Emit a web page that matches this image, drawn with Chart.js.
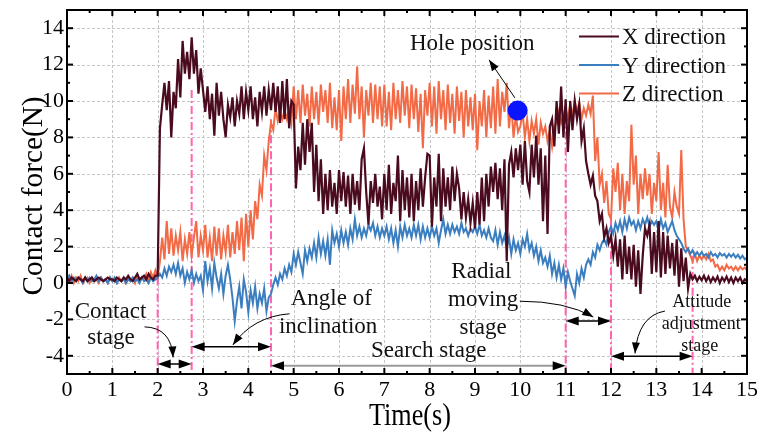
<!DOCTYPE html>
<html lang="en">
<head>
<meta charset="UTF-8">
<title>Contact force</title>
<script src="https://cdn.jsdelivr.net/npm/chart.js@4"></script>
<style>
    html, body { margin: 0; padding: 0; background: #fff; }
    canvas { display: block; }
</style>
</head>
<body>
<canvas id="grafico" width="760" height="434"></canvas>
<script>
// muestreo cada 0.05 s, una fila por segundo
const sampleStep = 0.05;

const xDirection = [
    0.3,0.1,0.3,0.2,0.1,0.3,0.2,0.1,0.3,0.1,0.2,0.3,0.1,0.2,0.3,0.2,0.1,0.2,0.3,0.2,
    0.2,0.1,0.3,0.2,0.1,0.3,0.2,0.4,0.2,0.1,0.3,0.5,0.2,0.3,0.4,0.2,0.5,0.3,0.2,0.4,
    0.4,8.5,9.8,11.0,9.5,11.1,8.0,10.5,9.6,12.3,10.2,13.3,11.5,12.7,11.2,13.5,11.5,12.8,10.4,11.8,
    10.6,9.4,10.8,9.0,10.4,8.1,11.0,9.2,10.5,9.0,8.0,9.8,9.1,10.2,8.6,10.0,9.3,10.8,9.0,10.5,
    9.5,10.8,9.0,10.2,8.6,10.5,9.4,10.8,9.2,10.6,9.5,11.0,9.4,10.8,8.8,11.1,9.0,11.2,8.5,10.0,
    9.8,5.2,7.5,6.2,8.8,6.5,9.0,7.2,8.8,5.0,7.6,4.5,6.8,3.8,6.0,4.0,6.2,4.2,5.5,3.8,
    6.2,4.5,6.1,4.2,5.9,3.8,6.0,4.3,5.6,4.0,6.8,7.4,5.0,3.2,5.6,4.4,6.0,4.2,5.3,3.5,
    6.0,4.0,6.5,3.8,5.5,4.5,7.0,3.4,6.2,4.0,5.8,3.6,6.0,3.4,5.6,4.0,6.3,4.2,5.8,7.1,
    7.0,3.1,5.8,4.2,7.1,3.4,6.3,4.2,5.8,4.0,6.4,4.5,6.0,5.2,3.5,5.0,3.6,4.6,3.3,4.4,
    3.0,5.0,3.2,5.8,3.4,6.0,4.2,6.4,5.0,6.6,4.6,6.3,4.0,6.8,1.2,6.5,7.2,5.8,7.4,6.2,
    7.6,5.4,7.8,5.6,5.0,7.6,5.8,8.1,5.4,7.4,3.4,7.0,2.7,8.6,9.0,7.5,10.0,8.2,10.8,8.0,
    10.1,7.2,10.0,8.4,10.0,9.0,9.8,7.8,8.5,6.7,6.0,5.4,5.9,4.8,4.5,3.4,3.8,2.5,3.0,2.2,
    2.6,1.5,2.4,0.9,2.4,0.2,2.6,0.5,2.0,0.2,2.1,-0.2,1.8,-0.6,1.5,3.0,2.6,3.2,0.5,2.8,
    0.6,3.4,0.3,2.8,0.5,2.6,0.8,2.2,0.4,2.4,-0.2,1.9,0.1,1.4,-0.3,0.5,0.2,0.4,0.1,0.35,
    0.15,0.4,0.1,0.35,0.05,0.3,0.1,0.35,0.0,0.3,0.1,0.35,0.05,0.3,0.0,0.3,0.1,0.3,0.0,0.2,0.1
];

const yDirection = [
    0.2,0.4,0.1,0.3,0.1,0.3,0.2,0.0,0.3,0.1,0.3,0.1,0.2,0.4,0.1,0.3,0.1,0.2,0.0,0.3,
    0.1,0.3,0.0,0.2,0.1,0.3,0.0,0.2,0.1,0.3,0.1,0.2,0.0,0.3,0.1,0.2,0.0,0.3,0.1,0.2,
    0.3,0.5,0.3,0.8,0.4,0.9,0.6,1.0,0.5,1.1,0.4,0.8,0.0,0.6,0.2,0.7,0.0,0.5,0.1,0.4,
    -0.4,1.2,0.1,0.8,-0.3,1.1,0.3,-0.3,0.5,-0.6,0.4,1.0,0.2,-0.8,-2.1,-1.0,-0.2,-1.4,0.2,-0.5,
    -1.6,-0.4,-1.1,-0.2,-1.4,-0.6,-1.1,-0.3,-1.55,-0.8,-0.6,-0.1,0.3,-0.1,0.5,0.2,0.8,0.4,1.0,0.6,
    1.6,1.0,1.7,1.1,0.5,1.8,1.2,1.9,1.4,2.2,1.4,2.5,1.6,2.3,1.5,2.4,1.0,2.9,2.2,2.7,
    2.0,2.9,2.2,2.8,2.1,3.0,2.4,3.5,2.6,3.1,2.5,3.0,2.6,3.2,2.9,3.3,2.6,3.1,2.5,3.0,
    2.6,3.1,2.4,3.0,2.2,2.9,2.0,3.1,2.5,3.2,2.6,3.0,2.5,3.2,2.6,3.2,2.4,3.1,2.5,3.0,
    2.5,3.1,2.6,3.0,2.2,2.9,3.5,2.7,3.2,2.7,3.2,2.8,3.1,2.7,3.3,2.8,3.0,2.6,3.0,2.8,
    3.1,2.7,3.2,2.6,2.9,2.5,3.0,2.5,2.3,2.9,2.1,2.8,2.2,2.6,1.9,2.5,1.6,2.4,1.8,2.2,
    1.6,2.4,2.0,2.7,1.8,2.2,1.5,2.0,1.2,1.8,1.1,1.4,0.9,1.5,0.5,1.1,0.3,1.0,0.2,0.8,
    -0.2,0.6,0.1,-0.3,-0.7,0.5,0.0,0.8,0.3,1.0,1.3,1.0,1.7,1.4,2.1,1.8,2.2,2.4,2.1,2.8,
    3.1,2.7,3.3,2.9,3.4,2.8,3.5,3.0,3.6,3.2,3.4,2.9,3.4,3.0,3.5,3.2,3.6,3.1,3.4,3.2,
    3.4,2.9,3.5,3.0,3.3,2.8,3.1,3.4,2.9,2.6,2.4,2.2,1.9,1.7,1.9,1.6,1.8,1.5,1.7,1.5,
    1.7,1.5,1.6,1.4,1.7,1.5,1.6,1.4,1.65,1.5,1.6,1.4,1.6,1.45,1.6,1.4,1.55,1.35,1.5,1.3,1.4
];

const zDirection = [
    0.5,0.1,0.4,0.0,0.3,0.1,0.4,0.0,0.2,0.3,0.0,0.3,0.1,0.2,0.0,0.3,0.1,0.2,0.0,0.3,
    0.1,0.2,0.0,0.3,0.1,0.2,0.0,0.3,0.1,0.3,0.0,0.4,0.1,0.3,0.2,0.5,0.1,0.6,0.3,0.7,
    0.3,1.2,2.5,1.3,3.4,1.6,3.0,1.5,2.6,1.8,2.8,1.2,2.4,1.6,2.8,1.5,2.5,3.4,1.4,2.6,
    1.8,3.2,1.4,2.5,1.2,3.1,1.5,3.0,1.3,2.6,1.7,3.2,1.4,2.8,1.6,3.4,1.8,3.6,1.2,3.8,
    2.0,4.0,2.4,4.5,3.5,5.4,4.8,7.0,6.2,7.8,8.8,8.4,9.6,8.9,9.4,9.0,9.5,9.0,9.6,8.8,
    10.8,9.0,10.6,8.8,10.9,9.2,10.4,8.6,10.8,9.0,10.5,8.7,10.9,9.4,10.6,8.8,11.0,8.5,10.2,8.4,
    10.6,7.8,10.8,9.0,11.2,8.8,10.9,9.3,11.9,9.0,10.8,8.0,10.6,9.2,11.0,8.8,10.9,9.0,10.8,8.6,
    10.9,8.6,10.5,8.4,11.0,9.0,10.6,8.8,11.1,9.2,10.8,8.5,10.9,9.0,10.7,8.3,10.4,7.4,10.6,9.2,
    11.0,8.6,10.8,8.2,11.1,9.0,10.6,8.4,10.9,8.8,10.4,8.2,10.8,8.9,10.5,8.0,10.6,8.6,10.2,8.4,
    10.4,7.3,10.0,8.6,10.6,8.0,10.3,8.5,10.8,8.2,11.2,8.6,10.5,9.4,11.0,8.5,9.8,8.0,9.2,8.3,
    8.6,9.4,8.0,9.0,7.8,8.9,8.2,9.0,7.6,8.8,8.2,8.6,7.8,8.4,7.5,8.6,8.8,9.4,8.8,9.2,
    9.6,9.0,9.8,9.2,10.0,9.4,9.9,9.0,9.6,9.2,9.8,9.3,10.3,6.7,8.0,5.4,6.0,4.4,5.6,3.8,
    3.5,6.3,5.0,6.6,4.0,6.0,3.8,5.6,4.5,8.7,5.4,7.0,3.8,6.0,4.6,6.3,4.8,6.0,3.8,5.5,
    4.5,7.2,4.0,5.5,3.6,6.5,4.2,3.6,5.0,4.2,3.8,7.3,3.5,2.0,1.8,1.5,1.2,1.6,1.2,1.5,
    1.3,1.5,1.3,1.6,1.2,1.3,0.9,1.0,0.7,0.9,0.7,1.0,0.8,0.9,0.7,0.9,0.7,0.9,0.75,0.85,0.7
];

const seriesNames = ["X direction", "Y direction", "Z direction"];
const seriesColors = ["#4a0b1f", "#3b7ec0", "#f26a46"];

const xTicks = [0, 1, 2, 3, 4, 5, 6, 7, 8, 9, 10, 11, 12, 13, 14, 15];
const yTicks = [-4, -2, 0, 2, 4, 6, 8, 10, 12, 14];
const xTitle = "Time(s)";
const yTitle = "Contact force(N)";

const holePosition = [{ x: 9.94, y: 9.48 }];

// limites de las etapas (s) y hasta donde sube cada linea (N)
const stageTimes = [2, 2.75, 4.5, 11, 12, 13.8];
const stageTops = [0.3, 10.6, 9.0, 9.2, 3.5, 1.5];

// flechas dobles: desde, hasta, altura
const stageSpans = [
    [2, 2.75, -4.45],
    [2.75, 4.5, -3.5],
    [4.5, 11, -4.54],
    [11, 12, -2.09],
    [12, 13.8, -4.03]
];

// flechas curvas: inicio, control, punta
const pointerArrows = [
    [[1.71, -2.41], [2.3, -2.45], [2.34, -4.09]],
    [[4.91, -1.69], [4.1, -1.85], [3.66, -3.4]],
    [[9.99, -1.0], [11.0, -1.0], [11.61, -1.87]],
    [[13.19, -1.54], [12.6, -1.8], [12.53, -3.87]],
    [[9.88, 10.17], [9.6, 11.2], [9.31, 12.26]]
];

// textos: texto, tiempo, fuerza (linea base), tamaño
const stageLabels = [
    ["Contact", 0.96, -1.91, 23],
    ["stage", 0.97, -3.36, 23],
    ["Angle of", 5.83, -1.23, 23],
    ["inclination", 5.76, -2.72, 23],
    ["Search stage", 7.98, -4.09, 23],
    ["Radial", 9.14, 0.27, 23],
    ["moving", 9.18, -1.27, 23],
    ["stage", 9.18, -2.78, 23],
    ["Attitude", 14.0, -1.32, 18],
    ["adjustment", 13.99, -2.5, 18],
    ["stage", 13.96, -3.72, 18],
    ["Hole position", 8.94, 12.81, 23]
];

const serif = '"Liberation Serif", "Times New Roman", serif';

function puntos(valores) {
    return valores.map((v, i) => ({ x: i * sampleStep, y: v }));
}

function linea(ctx, x1, y1, x2, y2) {
    ctx.beginPath();
    ctx.moveTo(x1, y1);
    ctx.lineTo(x2, y2);
    ctx.stroke();
}

function punta(ctx, fx, fy, tx, ty, largo, ancho) {
    const ang = Math.atan2(ty - fy, tx - fx);
    const c = Math.cos(ang), s = Math.sin(ang);
    ctx.beginPath();
    ctx.moveTo(tx, ty);
    ctx.lineTo(tx - largo * c + ancho * s, ty - largo * s - ancho * c);
    ctx.lineTo(tx - largo * c - ancho * s, ty - largo * s + ancho * c);
    ctx.closePath();
    ctx.fill();
}

// texto estrechado a un ancho dado (los titulos del original son condensados)
function textoAncho(ctx, txt, cx, cy, ancho, rot) {
    const w = ctx.measureText(txt).width;
    ctx.save();
    ctx.translate(cx, cy);
    ctx.rotate(rot);
    ctx.scale(ancho / w, 1);
    ctx.textAlign = "center";
    ctx.fillText(txt, 0, 0);
    ctx.restore();
}

const fondoPlugin = {
    id: "fondo",
    beforeDatasetsDraw(chart) {
        const { ctx, chartArea: a, scales: { x, y } } = chart;
        ctx.save();
        ctx.strokeStyle = "#c6c6c6";
        ctx.lineWidth = 1;
        ctx.setLineDash([3, 2]);
        xTicks.slice(1, -1).forEach(t => {
            const px = Math.round(x.getPixelForValue(t)) + 0.5;
            linea(ctx, px, a.top, px, a.bottom);
        });
        yTicks.forEach(v => {
            const py = Math.round(y.getPixelForValue(v)) + 0.5;
            linea(ctx, a.left, py, a.right, py);
        });

        ctx.strokeStyle = "#ff64b0";
        ctx.lineWidth = 2;
        ctx.setLineDash([8, 3, 2, 3]);
        stageTimes.forEach((t, i) => {
            const px = x.getPixelForValue(t);
            linea(ctx, px, y.getPixelForValue(stageTops[i]), px, a.bottom);
        });
        ctx.restore();
    }
};

const marcoPlugin = {
    id: "marco",
    afterDraw(chart) {
        const { ctx, chartArea: a, scales: { x, y } } = chart;
        ctx.save();

        // marco y marcas hacia dentro
        ctx.strokeStyle = "#000";
        ctx.lineWidth = 2;
        ctx.strokeRect(a.left, a.top, a.right - a.left, a.bottom - a.top);
        for (let t = 0; t <= 15; t += 0.5) {
            const px = x.getPixelForValue(t);
            const l = Number.isInteger(t) ? 6 : 3;
            linea(ctx, px, a.bottom, px, a.bottom - l);
            linea(ctx, px, a.top, px, a.top + l);
        }
        for (let v = -5; v <= 15; v += 1) {
            const py = y.getPixelForValue(v);
            const l = (v % 2 === 0) ? 6 : 3;
            linea(ctx, a.left, py, a.left + l, py);
            linea(ctx, a.right, py, a.right - l, py);
        }

        // titulos de los ejes
        ctx.fillStyle = "#000";
        ctx.textBaseline = "alphabetic";
        ctx.font = "30px " + serif;
        textoAncho(ctx, yTitle, 42, (a.top + a.bottom) / 2 + 4, 199, -Math.PI / 2);
        ctx.font = "32px " + serif;
        textoAncho(ctx, xTitle, (a.left + a.right) / 2 + 3, 425, 82, 0);

        // flechas de etapas
        stageSpans.forEach(([t1, t2, f], i) => {
            const x1 = x.getPixelForValue(t1), x2 = x.getPixelForValue(t2);
            const py = y.getPixelForValue(f);
            ctx.strokeStyle = i === 2 ? "#9a9a9a" : "#000";
            ctx.lineWidth = i === 2 ? 2 : 1.5;
            linea(ctx, x1 + 6, py, x2 - 6, py);
            punta(ctx, x2, py, x1, py, 13, 4.5);
            punta(ctx, x1, py, x2, py, 13, 4.5);
        });

        // flechas curvas
        ctx.strokeStyle = "#000";
        ctx.lineWidth = 1;
        pointerArrows.forEach(([p0, p1, p2]) => {
            const x0 = x.getPixelForValue(p0[0]), y0 = y.getPixelForValue(p0[1]);
            const xc = x.getPixelForValue(p1[0]), yc = y.getPixelForValue(p1[1]);
            const xt = x.getPixelForValue(p2[0]), yt = y.getPixelForValue(p2[1]);
            ctx.beginPath();
            ctx.moveTo(x0, y0);
            ctx.quadraticCurveTo(xc, yc, xt, yt);
            ctx.stroke();
            punta(ctx, xc, yc, xt, yt, 11, 4);
        });

        // textos
        ctx.fillStyle = "#111";
        ctx.textAlign = "center";
        stageLabels.forEach(([txt, t, f, size]) => {
            ctx.font = size + "px " + serif;
            ctx.fillText(txt, x.getPixelForValue(t), y.getPixelForValue(f));
        });

        // leyenda
        ctx.font = "23px " + serif;
        ctx.textAlign = "left";
        seriesNames.forEach((nombre, i) => {
            const ly = a.top + 26.5 + i * 28.5;
            ctx.strokeStyle = seriesColors[i];
            ctx.lineWidth = 2;
            linea(ctx, a.right - 168, ly, a.right - 128, ly);
            ctx.fillStyle = "#111";
            ctx.fillText(nombre, a.right - 125, ly + 7.5);
        });
        ctx.restore();
    }
};

const datasets = seriesNames.map((nombre, i) => ({
    label: nombre,
    data: puntos([xDirection, yDirection, zDirection][i]),
    borderColor: seriesColors[i],
    backgroundColor: seriesColors[i],
    borderWidth: i === 0 ? 2.2 : 2,
    pointRadius: 0,
    tension: 0,
    order: i + 1
}));

datasets.push({
    label: "Hole position",
    data: holePosition,
    showLine: false,
    pointRadius: 10,
    pointBackgroundColor: "#0a14ff",
    pointBorderWidth: 0,
    order: 0
});

new Chart(document.getElementById("grafico"), {
    type: "line",
    data: { datasets: datasets },
    options: {
        responsive: false,
        animation: false,
        layout: { padding: { top: 7, right: 13, left: 0, bottom: 0 } },
        plugins: { legend: { display: false }, tooltip: { enabled: false } },
        scales: {
            x: {
                type: "linear",
                min: 0,
                max: 15,
                afterBuildTicks: a => { a.ticks = xTicks.map(v => ({ value: v })); },
                afterFit: a => { a.height = 60; a.paddingLeft = 0; a.paddingRight = 0; },
                grid: { display: false, drawTicks: false },
                border: { display: false },
                ticks: { color: "#000", padding: 3, maxRotation: 0, font: { family: serif, size: 22 } }
            },
            y: {
                min: -5,
                max: 15,
                afterBuildTicks: a => { a.ticks = yTicks.map(v => ({ value: v })); },
                afterFit: a => { a.width = 67; a.paddingTop = 0; a.paddingBottom = 0; },
                grid: { display: false, drawTicks: false },
                border: { display: false },
                ticks: { color: "#000", padding: 3, font: { family: serif, size: 22 } }
            }
        }
    },
    plugins: [fondoPlugin, marcoPlugin]
});
</script>
</body>
</html>
